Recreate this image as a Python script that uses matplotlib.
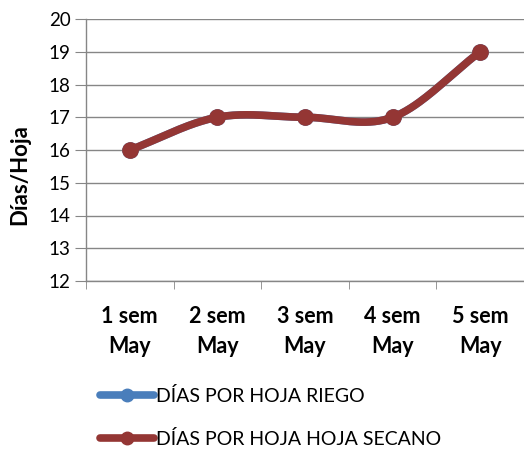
import numpy as np
import matplotlib.pyplot as plt

categories = ["1 sem\nMay", "2 sem\nMay", "3 sem\nMay", "4 sem\nMay", "5 sem\nMay"]
riego = [16, 17, 17, 17, 19]
secano = [16, 17, 17, 17, 19]
series_names = ["DÍAS POR HOJA RIEGO", "DÍAS POR HOJA HOJA SECANO"]
colors = ["#4A7EBB", "#943634"]

plt.rcParams["font.family"] = ["Lato", "DejaVu Sans"]


def smooth(y, n=40):
    # Catmull-Rom style smoothing, like Excel's smoothed line
    y = np.asarray(y, float)
    x = np.arange(len(y), dtype=float)
    xs, ys = [], []
    for i in range(len(y) - 1):
        m0 = (y[i + 1] - y[i - 1]) / 2 if i > 0 else (y[i + 1] - y[i])
        m1 = (y[i + 2] - y[i]) / 2 if i + 2 < len(y) else (y[i + 1] - y[i])
        t = np.linspace(0, 1, n)
        h00 = 2 * t**3 - 3 * t**2 + 1
        h10 = t**3 - 2 * t**2 + t
        h01 = -2 * t**3 + 3 * t**2
        h11 = t**3 - t**2
        xs.append(x[i] + t)
        ys.append(h00 * y[i] + h10 * m0 + h01 * y[i + 1] + h11 * m1)
    return np.concatenate(xs), np.concatenate(ys)


fig = plt.figure(figsize=(5.24, 4.51), dpi=100)
ax = fig.add_axes([86 / 524, 1 - 281 / 451, 438 / 524, 262 / 451])

x = np.arange(len(categories))
for vals, name, c in zip([riego, secano], series_names, colors):
    sx, sy = smooth(vals)
    ax.plot(sx, sy, color=c, lw=5.5, solid_capstyle="round")
    ax.plot(x, vals, "o", color=c, ms=11)
    ax.plot([], [], color=c, lw=5.5, marker="o", ms=9, label=name,
            solid_capstyle="round")

ax.set_xlim(-0.5, len(categories) - 0.5)
ax.set_ylim(12, 20)
ax.set_yticks(range(12, 21))
ax.set_xticks(x)
ax.set_xticklabels(categories, fontsize=15.5, fontweight="bold")
ax.set_xticks(np.arange(-0.5, len(categories)), minor=True)
ax.tick_params(axis="x", which="major", length=0, pad=18)
ax.tick_params(axis="x", which="minor", length=6, color="#868686")
ax.tick_params(axis="y", length=8, color="#868686", labelsize=13.5, pad=3)
for t in ax.get_xticklabels():
    t.set_linespacing(1.55)

ax.grid(axis="y", color="#868686", lw=1)
ax.set_axisbelow(True)
for s in ["top", "right"]:
    ax.spines[s].set_visible(False)
for s in ["left", "bottom"]:
    ax.spines[s].set_color("#868686")
    ax.spines[s].set_linewidth(1)

ax.set_ylabel("Días/Hoja", fontsize=16, fontweight="bold")
ax.yaxis.set_label_coords(-0.128, 0.405)

fig.legend(loc="lower left", bbox_to_anchor=(100 / 524, 3 / 451), frameon=False,
           fontsize=14, handlelength=2.8, handletextpad=0.1,
           labelspacing=1.3, borderpad=0, borderaxespad=0)

fig.savefig("out.png", dpi=100)
